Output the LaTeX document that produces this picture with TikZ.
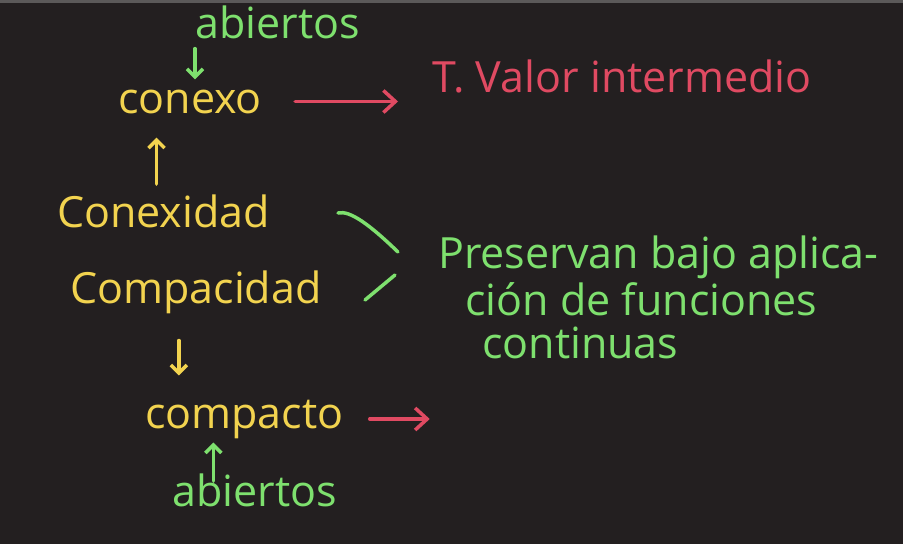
\documentclass[tikz,border=0pt]{standalone}
\usepackage{fontspec}
\setmainfont{Open Sans}
\usetikzlibrary{arrows.meta,calc,positioning}
\definecolor{board}{HTML}{231F20}
\definecolor{chalkyellow}{HTML}{F2D34F}
\definecolor{chalkgreen}{HTML}{7EE06E}
\definecolor{chalkred}{HTML}{E04A62}
\tikzset{
	word/.style={inner sep=0pt, anchor=base west, font=\fontsize{43}{50}\selectfont},
	pen/.style={line width=3.5pt, line cap=round, line join=round},
	tip/.style={-{Straight Barb[length=8pt,width=16pt]}},
	bigtip/.style={-{Straight Barb[length=12pt,width=22pt]}},
}

\begin{document}
\begin{tikzpicture}[x=1pt,y=-1pt]
	\fill[board] (0,0) rectangle (903,544);
	\useasboundingbox (0,0) rectangle (903,544);
	\draw[gray!60!board, line width=3pt] (0,1) -- (903,1);
	%%%%% words
	\node[word, chalkgreen] (abiertosA) at (195,38) {abiertos};
	\node[word, chalkyellow] (conexo) at (118,113) {conexo};
	\node[word, chalkred] (tvi) at (432,92) {T. Valor intermedio};
	\node[word, chalkyellow] (conexidad) at (57,227) {Conexidad};
	\node[word, chalkyellow] (compacidad) at (70,303) {Compacidad};
	\node[word, chalkgreen] (pres1) at (438,268) {Preservan bajo aplica-};
	\node[word, chalkgreen] (pres2) at (465,315) {ción de funciones};
	\node[word, chalkgreen] (pres3) at (482,358) {continuas};
	\node[word, chalkyellow] (compacto) at (145,428) {compacto};
	\node[word, chalkgreen] (abiertosB) at (172,506) {abiertos};
	%%%%% arrows
	\draw[pen,tip,chalkgreen,shorten <=10pt,shorten >=10pt] (abiertosA.south west) -- (abiertosA.south west |- conexo.north);
	\draw[pen,bigtip,chalkred,shorten <=33pt,shorten >=34pt] (conexo.east) -- (conexo.east -| tvi.west);
	\draw[pen,tip,chalkyellow,shorten <=10pt,shorten >=24pt] ([xshift=-7pt]conexidad.north) -- ([xshift=-7pt]conexidad.north |- conexo.south);
	\draw[pen,tip,chalkyellow,shorten <=27pt,shorten >=24pt] ([xshift=-17pt]compacidad.south) -- ([xshift=-17pt]compacidad.south |- compacto.north);
	\coordinate (redend) at ($(compacto.east)+(86,0)$);
	\draw[pen,bigtip,chalkred,shorten <=26pt] (compacto.east) -- (redend);
	\draw[pen,tip,chalkgreen,shorten <=-8pt,shorten >=4pt] ([xshift=-41pt]abiertosB.north) -- ([xshift=-41pt]abiertosB.north |- compacto.south);
	%%%%% bracket
	\coordinate (brA) at (338,213);
	\coordinate (brB) at (398,252);
	\coordinate (brC) at (395,275);
	\coordinate (brD) at (365,300);
	\draw[pen,chalkgreen] (brA) .. controls (350,210) and (370,225) .. (brB);
	\draw[pen,chalkgreen] (brC) -- (brD);
\end{tikzpicture}
\end{document}
